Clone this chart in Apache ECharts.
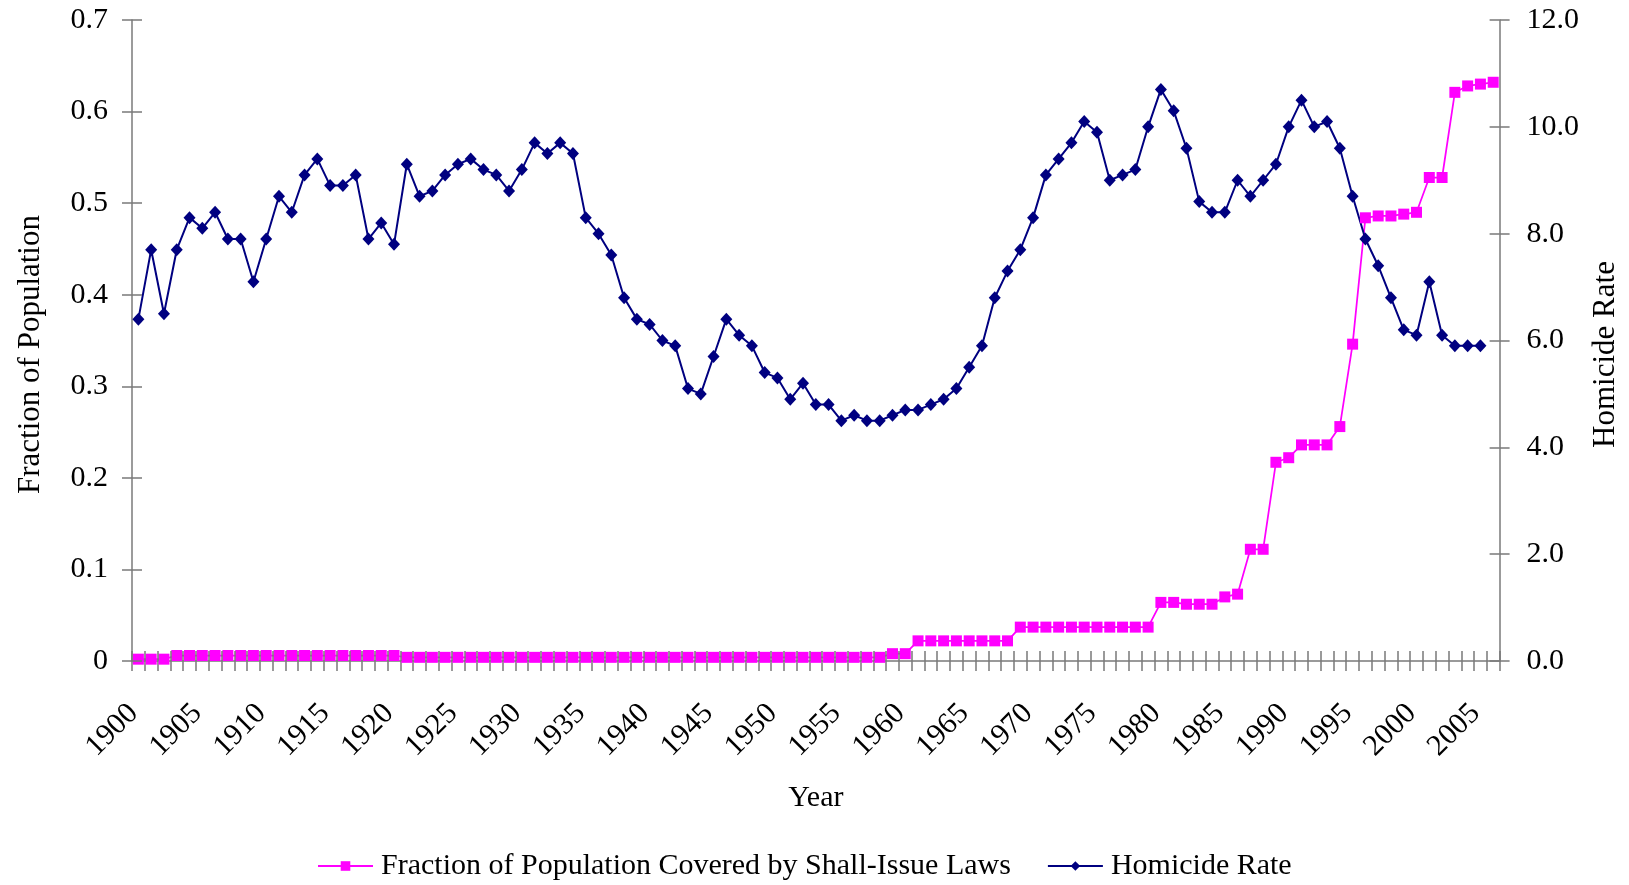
<!DOCTYPE html>
<html>
<head>
<meta charset="utf-8">
<script src="https://cdn.jsdelivr.net/npm/echarts@6/dist/echarts.min.js"></script>
<style>
html, body { margin: 0; padding: 0; background: #ffffff; }
#chart { width: 1629px; height: 885px; }
</style>
</head>
<body>
<div id="chart"></div>
<script>
// years on the category axis
const years = [
    '1900','1901','1902','1903','1904','1905','1906','1907','1908','1909',
    '1910','1911','1912','1913','1914','1915','1916','1917','1918','1919',
    '1920','1921','1922','1923','1924','1925','1926','1927','1928','1929',
    '1930','1931','1932','1933','1934','1935','1936','1937','1938','1939',
    '1940','1941','1942','1943','1944','1945','1946','1947','1948','1949',
    '1950','1951','1952','1953','1954','1955','1956','1957','1958','1959',
    '1960','1961','1962','1963','1964','1965','1966','1967','1968','1969',
    '1970','1971','1972','1973','1974','1975','1976','1977','1978','1979',
    '1980','1981','1982','1983','1984','1985','1986','1987','1988','1989',
    '1990','1991','1992','1993','1994','1995','1996','1997','1998','1999',
    '2000','2001','2002','2003','2004','2005','2006'
];

// fraction of population covered by shall-issue laws (left axis)
const shallIssue = [
    0.002, 0.002, 0.002, 0.006, 0.006, 0.006, 0.006, 0.006, 0.006, 0.006,
    0.006, 0.006, 0.006, 0.006, 0.006, 0.006, 0.006, 0.006, 0.006, 0.006,
    0.006, 0.004, 0.004, 0.004, 0.004, 0.004, 0.004, 0.004, 0.004, 0.004,
    0.004, 0.004, 0.004, 0.004, 0.004, 0.004, 0.004, 0.004, 0.004, 0.004,
    0.004, 0.004, 0.004, 0.004, 0.004, 0.004, 0.004, 0.004, 0.004, 0.004,
    0.004, 0.004, 0.004, 0.004, 0.004, 0.004, 0.004, 0.004, 0.004, 0.008,
    0.008, 0.022, 0.022, 0.022, 0.022, 0.022, 0.022, 0.022, 0.022, 0.037,
    0.037, 0.037, 0.037, 0.037, 0.037, 0.037, 0.037, 0.037, 0.037, 0.037,
    0.064, 0.064, 0.062, 0.062, 0.062, 0.070, 0.073, 0.122, 0.122, 0.217,
    0.222, 0.236, 0.236, 0.236, 0.256, 0.346, 0.484, 0.486, 0.486, 0.488,
    0.490, 0.528, 0.528, 0.621, 0.628, 0.630, 0.632
];

// homicide rate (right axis), 1900-2005
const homicide = [
    6.4, 7.7, 6.5, 7.7, 8.3, 8.1, 8.4, 7.9, 7.9, 7.1,
    7.9, 8.7, 8.4, 9.1, 9.4, 8.9, 8.9, 9.1, 7.9, 8.2,
    7.8, 9.3, 8.7, 8.8, 9.1, 9.3, 9.4, 9.2, 9.1, 8.8,
    9.2, 9.7, 9.5, 9.7, 9.5, 8.3, 8.0, 7.6, 6.8, 6.4,
    6.3, 6.0, 5.9, 5.1, 5.0, 5.7, 6.4, 6.1, 5.9, 5.4,
    5.3, 4.9, 5.2, 4.8, 4.8, 4.5, 4.6, 4.5, 4.5, 4.6,
    4.7, 4.7, 4.8, 4.9, 5.1, 5.5, 5.9, 6.8, 7.3, 7.7,
    8.3, 9.1, 9.4, 9.7, 10.1, 9.9, 9.0, 9.1, 9.2, 10.0,
    10.7, 10.3, 9.6, 8.6, 8.4, 8.4, 9.0, 8.7, 9.0, 9.3,
    10.0, 10.5, 10.0, 10.1, 9.6, 8.7, 7.9, 7.4, 6.8, 6.2,
    6.1, 7.1, 6.1, 5.9, 5.9, 5.9
];

// axis ranges: min, max, step
const leftRange = [0, 0.7, 0.1];
const rightRange = [0, 12, 2];

const seriesNames = ['Fraction of Population Covered by Shall-Issue Laws', 'Homicide Rate'];
const fontFamily = '"Liberation Serif", "Times New Roman", serif';
const axisColor = '#7a7a7a';
const fontSize = 30;

const chart = echarts.init(document.getElementById('chart'));

const tickStyle = { color: axisColor, width: 1.5 };

// one axis with labels and outer ticks, one copy with the inner half of the ticks
function yAxisPair(pos, range, name, nameGap, labelMargin, formatter) {
    return [
        {
            type: 'value', position: pos,
            min: range[0], max: range[1], interval: range[2],
            name: name, nameLocation: 'middle', nameRotate: 90, nameGap: nameGap,
            nameTextStyle: { fontSize: 31, color: '#000', fontFamily: fontFamily, padding: [0, 28, 0, 0] },
            axisLine: { show: true, lineStyle: tickStyle },
            axisTick: { show: true, length: 10, lineStyle: tickStyle },
            axisLabel: { fontSize: fontSize, color: '#000', fontFamily: fontFamily, margin: labelMargin, formatter: formatter },
            splitLine: { show: false }
        },
        {
            type: 'value', position: pos,
            min: range[0], max: range[1], interval: range[2],
            axisLine: { show: false },
            axisTick: { show: true, inside: true, length: 10, lineStyle: tickStyle },
            axisLabel: { show: false },
            splitLine: { show: false },
            z: 5
        }
    ];
}

const leftY = yAxisPair('left', leftRange, 'Fraction of Population', 86, 24, null);
const rightY = yAxisPair('right', rightRange, 'Homicide Rate', 76, 27, function (v) { return v.toFixed(1); });

chart.setOption({
    animation: false,
    backgroundColor: '#ffffff',
    textStyle: { fontFamily: fontFamily },
    grid: { left: 132, right: 117, top: 20, bottom: 224, containLabel: false },
    legend: {
        data: seriesNames,
        left: 312,
        top: 846,
        itemWidth: 55,
        itemHeight: 12,
        itemGap: 36,
        textStyle: { fontSize: fontSize, color: '#000', fontFamily: fontFamily, padding: [0, 0, 0, 3] }
    },
    xAxis: [
        {
            type: 'category', data: years, position: 'bottom', boundaryGap: true,
            name: 'Year', nameLocation: 'middle', nameGap: 122,
            nameTextStyle: { fontSize: fontSize, color: '#000', fontFamily: fontFamily },
            axisLine: { show: true, lineStyle: tickStyle },
            axisTick: { show: true, interval: 0, length: 10, lineStyle: tickStyle },
            axisLabel: {
                interval: 4, rotate: 45, margin: 43, padding: [0, 7, 0, 0],
                fontSize: fontSize, color: '#000', fontFamily: fontFamily
            },
            splitLine: { show: false }
        },
        {
            type: 'category', data: years, position: 'bottom', boundaryGap: true,
            axisLine: { show: false },
            axisTick: { show: true, inside: true, interval: 0, length: 10, lineStyle: tickStyle },
            axisLabel: { show: false },
            splitLine: { show: false },
            z: 5
        }
    ],
    yAxis: [leftY[0], rightY[0], leftY[1], rightY[1]],
    series: [
        {
            name: seriesNames[0],
            type: 'line',
            xAxisIndex: 0,
            yAxisIndex: 0,
            data: shallIssue,
            showAllSymbol: true,
            symbol: 'rect',
            symbolSize: 11,
            itemStyle: { color: '#FF00FF' },
            lineStyle: { color: '#FF00FF', width: 1.75 }
        },
        {
            name: seriesNames[1],
            type: 'line',
            xAxisIndex: 0,
            yAxisIndex: 1,
            data: homicide,
            showAllSymbol: true,
            symbol: 'diamond',
            symbolSize: [12, 13],
            itemStyle: { color: '#000080' },
            lineStyle: { color: '#000080', width: 2 }
        }
    ]
});
</script>
</body>
</html>
